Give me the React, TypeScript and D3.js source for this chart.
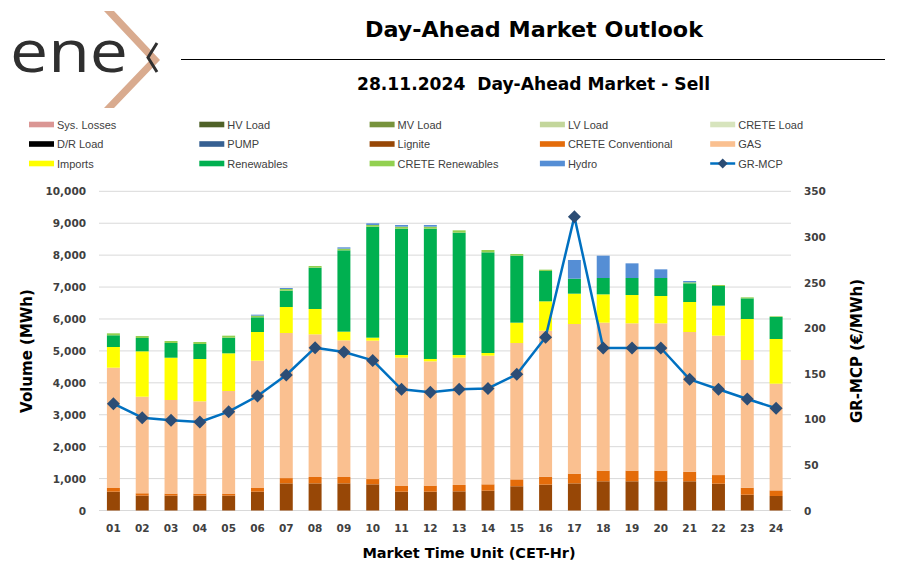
import React from 'react';
import * as d3 from 'd3';

const hours = ['01','02','03','04','05','06','07','08','09','10','11','12','13','14','15','16','17','18','19','20','21','22','23','24'];

const lignite = [590, 465, 465, 465, 465, 590, 850, 850, 850, 820, 590, 590, 600, 620, 760, 810, 850, 915, 915, 915, 915, 840, 495, 455];
const creteConventional = [115, 75, 65, 65, 65, 115, 165, 200, 200, 165, 190, 190, 200, 200, 215, 250, 305, 335, 335, 335, 300, 270, 220, 175];
const gas = [3769, 3025, 2932, 2890, 3214, 3989, 4546, 4469, 4281, 4336, 4008, 3893, 3988, 4031, 4272, 4574, 4688, 4635, 4614, 4614, 4377, 4367, 4000, 3343];
const imports = [648, 1422, 1325, 1326, 1180, 898, 814, 794, 272, 94, 84, 74, 84, 83, 638, 919, 950, 887, 887, 856, 940, 940, 1284, 1400];
const renewables = [367, 417, 461, 470, 490, 460, 512, 1294, 2548, 3477, 3958, 4083, 3832, 3154, 2099, 950, 470, 512, 533, 564, 585, 617, 647, 689];
const creteRenewables = [62, 63, 62, 63, 63, 52, 52, 53, 52, 53, 62, 62, 73, 73, 52, 42, 0, 0, 0, 0, 31, 31, 32, 21];
const hydro = [0, 0, 0, 0, 0, 31, 31, 0, 42, 52, 53, 53, 0, 0, 0, 0, 585, 700, 459, 271, 42, 0, 0, 0];
const grMcp = [117.1, 101.8, 98.9, 97.0, 108.4, 125.5, 148.6, 178.5, 173.8, 164.6, 132.9, 129.6, 132.9, 133.9, 149.3, 189.9, 322.2, 178.2, 178.2, 178.2, 143.8, 132.9, 122.3, 112.1];

const leftTicks = [0, 1000, 2000, 3000, 4000, 5000, 6000, 7000, 8000, 9000, 10000];
const rightTicks = [0, 50, 100, 150, 200, 250, 300, 350];

const stackKeys = ['Lignite', 'CRETE Conventional', 'GAS', 'Imports', 'Renewables', 'CRETE Renewables', 'Hydro'];
const stackSeries = [lignite, creteConventional, gas, imports, renewables, creteRenewables, hydro];

const legendItems = [
  ['Sys. Losses', '#DA9694'], ['HV Load', '#4F6228'], ['MV Load', '#77933C'], ['LV Load', '#C3D69B'], ['CRETE Load', '#D7E4BD'],
  ['D/R Load', '#000000'], ['PUMP', '#366092'], ['Lignite', '#974706'], ['CRETE Conventional', '#E46C0A'], ['GAS', '#FAC090'],
  ['Imports', '#FFFF00'], ['Renewables', '#00B050'], ['CRETE Renewables', '#92D050'], ['Hydro', '#558ED5'], ['GR-MCP', 'line'],
];

const colorOf: Record<string, string> = {
  'Lignite': '#974706', 'CRETE Conventional': '#E46C0A', 'GAS': '#FAC090', 'Imports': '#FFFF00',
  'Renewables': '#00B050', 'CRETE Renewables': '#92D050', 'Hydro': '#558ED5',
};

export default function App() {
  const W = 897, H = 568;
  const x = d3.scaleBand<string>().domain(hours).range([99, 790.5]).paddingInner(0.55).paddingOuter(0.275);
  const y = d3.scaleLinear().domain([0, 10000]).range([510.5, 191.3]);
  const y2 = d3.scaleLinear().domain([0, 350]).range([510.5, 191.3]);

  const rows = hours.map((h, i) => {
    const r: any = { hour: h };
    stackKeys.forEach((k, j) => { r[k] = stackSeries[j][i]; });
    return r;
  });
  const stacked = d3.stack<any>().keys(stackKeys)(rows);

  const line = d3.line<number>()
    .x((_, i) => (x(hours[i]) as number) + x.bandwidth() / 2)
    .y(d => y2(d));

  const axisFont = "'DejaVu Sans', sans-serif";
  const diamond = 'M0,-6.5L6.5,0L0,6.5L-6.5,0Z';

  return (
    <svg width={W} height={H} style={{ position: 'absolute', left: 0, top: 0, background: '#fff' }}>
      <rect x={0} y={0} width={W} height={H} fill="#fff" />
      {/* Logo */}
      <text x={10} y={72} fontFamily="'Open Sans', 'Lato', sans-serif" fontWeight={400} fontSize={58} fill="#2f2f2f" textLength={118} lengthAdjust="spacingAndGlyphs">ene</text>
      <polygon points="104,11 114,11 160,60 114,108 104,108 150,60" fill="#D9AB8F" />
      <polyline points="157,43 148,57.5 157,72" fill="none" stroke="#2f2f2f" strokeWidth={3} />
      {/* Header */}
      <text x={534} y={37} textAnchor="middle" fontFamily={axisFont} fontWeight="bold" fontSize={22} fill="#000" textLength={338} lengthAdjust="spacingAndGlyphs">Day-Ahead Market Outlook</text>
      <line x1={181} x2={885} y1={59.5} y2={59.5} stroke="#000" strokeWidth={1.2} />
      <text x={533.5} y={90} textAnchor="middle" fontFamily={axisFont} fontWeight="bold" fontSize={17} fill="#000" style={{ whiteSpace: 'pre' }} textLength={353} lengthAdjust="spacingAndGlyphs">{'28.11.2024  Day-Ahead Market - Sell'}</text>

      {/* Legend */}
      {legendItems.map(([name, col], i) => {
        const cx = 29 + (i % 5) * 170.3;
        const cy = 124.5 + Math.floor(i / 5) * 19.5;
        return (
          <g key={name}>
            {col === 'line' ? (
              <g>
                <line x1={cx} x2={cx + 25} y1={cy} y2={cy} stroke="#0070C0" strokeWidth={2.5} />
                <path d={'M0,-5L5,0L0,5L-5,0Z'} transform={`translate(${cx + 12.5},${cy})`} fill="#2C4D75" />
              </g>
            ) : (
              <rect x={cx} y={cy - 2.8} width={25} height={5.6} fill={col} />
            )}
            <text x={cx + 28} y={cy + 4} fontFamily="'Liberation Sans', Arial, sans-serif" fontSize={11} fill="#404040">{name}</text>
          </g>
        );
      })}

      {/* Gridlines */}
      {leftTicks.map(t => (
        <line key={t} x1={99} x2={791} y1={y(t)} y2={y(t)} stroke="#D9D9D9" strokeWidth={1} />
      ))}

      {/* Bars */}
      {stacked.map(s => (
        <g key={s.key} fill={colorOf[s.key]}>
          {s.map((d, i) => (
            d[1] - d[0] > 0 ? (
              <rect key={i} x={x(hours[i])} width={x.bandwidth()} y={y(d[1])} height={y(d[0]) - y(d[1])} />
            ) : null
          ))}
        </g>
      ))}

      {/* Line */}
      <path d={line(grMcp) || ''} fill="none" stroke="#0070C0" strokeWidth={2.5} strokeLinejoin="round" />
      {grMcp.map((v, i) => (
        <path key={i} d={diamond} transform={`translate(${(x(hours[i]) as number) + x.bandwidth() / 2},${y2(v)})`} fill="#2C4D75" />
      ))}

      {/* Left axis */}
      {leftTicks.map(t => (
        <text key={t} x={86} y={y(t) + 4} textAnchor="end" fontFamily={axisFont} fontWeight="bold" fontSize={10.5} fill="#404040">{d3.format(',')(t)}</text>
      ))}
      {/* Right axis */}
      {rightTicks.map(t => (
        <text key={t} x={804} y={y2(t) + 4} textAnchor="start" fontFamily={axisFont} fontWeight="bold" fontSize={10.5} fill="#404040">{t}</text>
      ))}
      {/* X axis labels */}
      {hours.map(h => (
        <text key={h} x={(x(h) as number) + x.bandwidth() / 2} y={532} textAnchor="middle" fontFamily={axisFont} fontWeight="bold" fontSize={10.5} fill="#404040">{h}</text>
      ))}

      {/* Axis titles */}
      <text transform="translate(32,351) rotate(-90)" textAnchor="middle" fontFamily={axisFont} fontWeight="bold" fontSize={15} fill="#000">Volume (MWh)</text>
      <text transform="translate(862,351) rotate(-90)" textAnchor="middle" fontFamily={axisFont} fontWeight="bold" fontSize={15} fill="#000">GR-MCP (€/MWh)</text>
      <text x={469} y={558} textAnchor="middle" fontFamily={axisFont} fontWeight="bold" fontSize={14.5} fill="#000">Market Time Unit (CET-Hr)</text>
    </svg>
  );
}
